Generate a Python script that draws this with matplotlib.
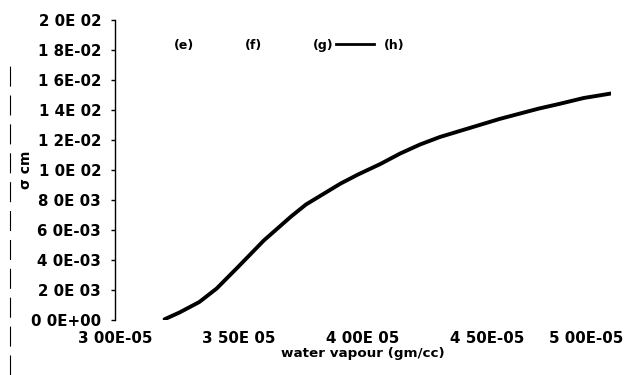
import matplotlib
matplotlib.use("Agg")
import matplotlib.pyplot as plt
from matplotlib.lines import Line2D
import matplotlib.transforms as mtransforms

# data
water_vapour = [3.20e-5, 3.26e-5, 3.34e-5, 3.41e-5, 3.50e-5, 3.60e-5, 3.71e-5, 3.77e-5,
                3.84e-5, 3.91e-5, 3.98e-5, 4.07e-5, 4.15e-5, 4.23e-5, 4.31e-5, 4.39e-5,
                4.47e-5, 4.55e-5, 4.63e-5, 4.71e-5, 4.79e-5, 4.89e-5, 5.00e-5]
sigma_h = [0.00005, 0.0005, 0.0012, 0.0021, 0.0036, 0.0053, 0.0069, 0.0077,
           0.0084, 0.0091, 0.0097, 0.0104, 0.0111, 0.0117, 0.0122, 0.0126,
           0.0130, 0.0134, 0.01375, 0.0141, 0.0144, 0.0148, 0.0151]

y_ticks = [0.0, 0.002, 0.004, 0.006, 0.008, 0.010, 0.012, 0.014, 0.016, 0.018, 0.020]
y_tick_labels = ["0 0E+00", "2 0E 03", "4 0E-03", "6 0E-03", "8 0E 03", "1 0E 02",
                 "1 2E-02", "1 4E 02", "1 6E-02", "1 8E-02", "2 0E 02"]
x_ticks = [3.0e-5, 3.5e-5, 4.0e-5, 4.5e-5, 5.0e-5]
x_tick_labels = ["3 00E-05", "3 50E 05", "4 00E 05", "4 50E-05", "5 00E-05"]
legend_labels = ["(e)", "(f)", "(g)", "(h)"]

plt.rcParams['font.family'] = ['DejaVu Sans']

fig = plt.figure(figsize=(6.34, 3.75), dpi=100)
ax = fig.add_axes([115/634, 55/375, 496/634, 300/375])

ax.plot(water_vapour, sigma_h, color='black', lw=2.8, solid_capstyle='round',
        solid_joinstyle='round')

ax.set_xlim(3.0e-5, 5.0e-5)
ax.set_ylim(0, 0.02)
ax.set_yticks(y_ticks)
ax.set_yticklabels(y_tick_labels, fontsize=10.8, fontweight='bold')
ax.set_xticks(x_ticks)
ax.set_xticklabels(x_tick_labels, fontsize=10.8, fontweight='bold')
ax.tick_params(axis='y', direction='out', length=3, width=1, pad=7)
ax.tick_params(axis='x', length=0, pad=8)

# last x label pushed left to stay inside the frame
lab = ax.get_xticklabels()[-1]
lab.set_horizontalalignment('right')
lab.set_transform(lab.get_transform() + mtransforms.ScaledTranslation(12/100, 0, fig.dpi_scale_trans))

for s in ['top', 'right', 'bottom']:
    ax.spines[s].set_visible(False)
ax.spines['left'].set_linewidth(1.0)

ax.set_xlabel("water vapour (gm/cc)", fontsize=9.7, fontweight='bold', labelpad=1)
ax.set_ylabel("\u03c3 cm", fontsize=10, fontweight='bold')
ax.yaxis.set_label_coords(-82/496, 0.5)

handles = [Line2D([], [], color='white', lw=0),
           Line2D([], [], color='white', lw=0),
           Line2D([], [], color='white', lw=0),
           Line2D([], [], color='black', lw=2.0)]
leg = fig.legend(handles, legend_labels, loc='center left', ncol=4,
                 bbox_to_anchor=(126/634, 1 - 45/375), bbox_transform=fig.transFigure,
                 frameon=False, borderpad=0, borderaxespad=0,
                 handlelength=3.0, handletextpad=0.85, columnspacing=0.2,
                 prop={'size': 9, 'weight': 'bold'})

# scan border line at the left of the page
fig.add_artist(Line2D([10/634, 10/634], [0, 1 - 60/375], color='black', lw=0.8,
                      transform=fig.transFigure, linestyle=(0, (18, 8))))

fig.savefig("out.png", dpi=100, facecolor='white')
